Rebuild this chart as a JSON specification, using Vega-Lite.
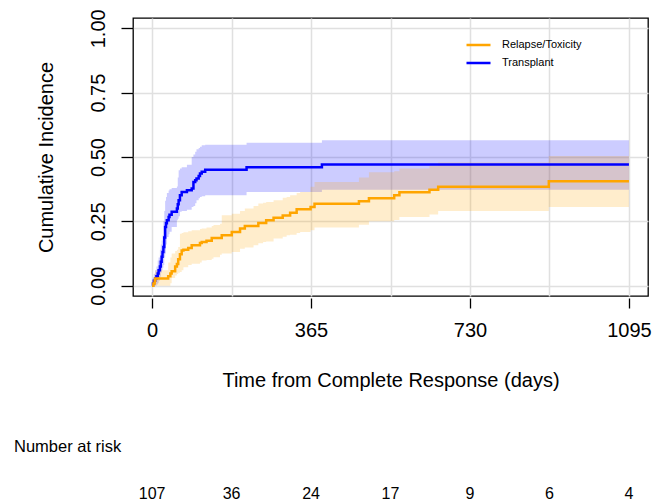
{
  "$schema": "https://vega.github.io/schema/vega-lite/v6.json",
  "padding": {"left": 14, "top": 8, "right": 5, "bottom": 0},
  "background": "white",
  "config": {
    "font": "Liberation Sans",
    "view": {"stroke": null},
    "legend": {"padding": 0}
  },
  "datasets": {
    "curves": [
      {"group": "Transplant", "day": 0, "est": 0, "lo": 0, "hi": 0},
      {"group": "Transplant", "day": 2, "est": 0.009, "lo": 0, "hi": 0.028},
      {"group": "Transplant", "day": 4, "est": 0.019, "lo": 0, "hi": 0.045},
      {"group": "Transplant", "day": 7, "est": 0.028, "lo": 0, "hi": 0.06},
      {"group": "Transplant", "day": 10, "est": 0.037, "lo": 0.005, "hi": 0.075},
      {"group": "Transplant", "day": 13, "est": 0.047, "lo": 0.01, "hi": 0.098},
      {"group": "Transplant", "day": 15, "est": 0.06, "lo": 0.02, "hi": 0.11},
      {"group": "Transplant", "day": 18, "est": 0.075, "lo": 0.035, "hi": 0.14},
      {"group": "Transplant", "day": 20, "est": 0.093, "lo": 0.05, "hi": 0.16},
      {"group": "Transplant", "day": 22, "est": 0.112, "lo": 0.06, "hi": 0.176},
      {"group": "Transplant", "day": 24, "est": 0.131, "lo": 0.07, "hi": 0.195},
      {"group": "Transplant", "day": 26, "est": 0.15, "lo": 0.08, "hi": 0.25},
      {"group": "Transplant", "day": 28, "est": 0.187, "lo": 0.11, "hi": 0.29},
      {"group": "Transplant", "day": 30, "est": 0.228, "lo": 0.125, "hi": 0.33},
      {"group": "Transplant", "day": 32, "est": 0.243, "lo": 0.16, "hi": 0.345},
      {"group": "Transplant", "day": 34, "est": 0.254, "lo": 0.189, "hi": 0.36},
      {"group": "Transplant", "day": 38, "est": 0.267, "lo": 0.2, "hi": 0.37},
      {"group": "Transplant", "day": 40, "est": 0.276, "lo": 0.21, "hi": 0.375},
      {"group": "Transplant", "day": 45, "est": 0.287, "lo": 0.228, "hi": 0.38},
      {"group": "Transplant", "day": 57, "est": 0.3, "lo": 0.254, "hi": 0.385},
      {"group": "Transplant", "day": 59, "est": 0.316, "lo": 0.26, "hi": 0.42},
      {"group": "Transplant", "day": 61, "est": 0.332, "lo": 0.27, "hi": 0.449},
      {"group": "Transplant", "day": 64, "est": 0.351, "lo": 0.287, "hi": 0.455},
      {"group": "Transplant", "day": 68, "est": 0.364, "lo": 0.29, "hi": 0.46},
      {"group": "Transplant", "day": 80, "est": 0.371, "lo": 0.295, "hi": 0.47},
      {"group": "Transplant", "day": 91, "est": 0.378, "lo": 0.306, "hi": 0.5},
      {"group": "Transplant", "day": 95, "est": 0.403, "lo": 0.31, "hi": 0.51},
      {"group": "Transplant", "day": 99, "est": 0.41, "lo": 0.32, "hi": 0.52},
      {"group": "Transplant", "day": 102, "est": 0.416, "lo": 0.332, "hi": 0.53},
      {"group": "Transplant", "day": 107, "est": 0.426, "lo": 0.34, "hi": 0.535},
      {"group": "Transplant", "day": 110, "est": 0.436, "lo": 0.345, "hi": 0.54},
      {"group": "Transplant", "day": 114, "est": 0.443, "lo": 0.348, "hi": 0.546},
      {"group": "Transplant", "day": 122, "est": 0.45, "lo": 0.351, "hi": 0.548},
      {"group": "Transplant", "day": 217, "est": 0.46, "lo": 0.364, "hi": 0.555},
      {"group": "Transplant", "day": 390, "est": 0.471, "lo": 0.373, "hi": 0.565},
      {"group": "Transplant", "day": 1095, "est": 0.471, "lo": 0.373, "hi": 0.565},
      {"group": "Relapse/Toxicity", "day": 0, "est": 0, "lo": 0, "hi": 0},
      {"group": "Relapse/Toxicity", "day": 3, "est": 0.009, "lo": 0, "hi": 0.03},
      {"group": "Relapse/Toxicity", "day": 6, "est": 0.019, "lo": 0, "hi": 0.05},
      {"group": "Relapse/Toxicity", "day": 7, "est": 0.028, "lo": 0, "hi": 0.06},
      {"group": "Relapse/Toxicity", "day": 37, "est": 0.037, "lo": 0, "hi": 0.09},
      {"group": "Relapse/Toxicity", "day": 42, "est": 0.047, "lo": 0.01, "hi": 0.11},
      {"group": "Relapse/Toxicity", "day": 45, "est": 0.056, "lo": 0.03, "hi": 0.125},
      {"group": "Relapse/Toxicity", "day": 53, "est": 0.075, "lo": 0.04, "hi": 0.135},
      {"group": "Relapse/Toxicity", "day": 57, "est": 0.084, "lo": 0.045, "hi": 0.14},
      {"group": "Relapse/Toxicity", "day": 60, "est": 0.103, "lo": 0.05, "hi": 0.15},
      {"group": "Relapse/Toxicity", "day": 64, "est": 0.122, "lo": 0.053, "hi": 0.202},
      {"group": "Relapse/Toxicity", "day": 68, "est": 0.137, "lo": 0.06, "hi": 0.205},
      {"group": "Relapse/Toxicity", "day": 72, "est": 0.14, "lo": 0.072, "hi": 0.208},
      {"group": "Relapse/Toxicity", "day": 83, "est": 0.146, "lo": 0.08, "hi": 0.212},
      {"group": "Relapse/Toxicity", "day": 91, "est": 0.157, "lo": 0.085, "hi": 0.215},
      {"group": "Relapse/Toxicity", "day": 110, "est": 0.166, "lo": 0.09, "hi": 0.22},
      {"group": "Relapse/Toxicity", "day": 114, "est": 0.17, "lo": 0.098, "hi": 0.222},
      {"group": "Relapse/Toxicity", "day": 125, "est": 0.175, "lo": 0.1, "hi": 0.226},
      {"group": "Relapse/Toxicity", "day": 137, "est": 0.185, "lo": 0.105, "hi": 0.232},
      {"group": "Relapse/Toxicity", "day": 141, "est": 0.185, "lo": 0.111, "hi": 0.236},
      {"group": "Relapse/Toxicity", "day": 156, "est": 0.185, "lo": 0.12, "hi": 0.241},
      {"group": "Relapse/Toxicity", "day": 160, "est": 0.196, "lo": 0.125, "hi": 0.274},
      {"group": "Relapse/Toxicity", "day": 183, "est": 0.209, "lo": 0.131, "hi": 0.28},
      {"group": "Relapse/Toxicity", "day": 202, "est": 0.222, "lo": 0.144, "hi": 0.29},
      {"group": "Relapse/Toxicity", "day": 213, "est": 0.232, "lo": 0.148, "hi": 0.3},
      {"group": "Relapse/Toxicity", "day": 233, "est": 0.232, "lo": 0.157, "hi": 0.31},
      {"group": "Relapse/Toxicity", "day": 244, "est": 0.244, "lo": 0.165, "hi": 0.319},
      {"group": "Relapse/Toxicity", "day": 255, "est": 0.244, "lo": 0.17, "hi": 0.322},
      {"group": "Relapse/Toxicity", "day": 262, "est": 0.254, "lo": 0.172, "hi": 0.325},
      {"group": "Relapse/Toxicity", "day": 279, "est": 0.264, "lo": 0.183, "hi": 0.332},
      {"group": "Relapse/Toxicity", "day": 300, "est": 0.273, "lo": 0.19, "hi": 0.342},
      {"group": "Relapse/Toxicity", "day": 309, "est": 0.273, "lo": 0.196, "hi": 0.345},
      {"group": "Relapse/Toxicity", "day": 317, "est": 0.283, "lo": 0.198, "hi": 0.351},
      {"group": "Relapse/Toxicity", "day": 332, "est": 0.297, "lo": 0.205, "hi": 0.36},
      {"group": "Relapse/Toxicity", "day": 340, "est": 0.297, "lo": 0.209, "hi": 0.364},
      {"group": "Relapse/Toxicity", "day": 364, "est": 0.306, "lo": 0.215, "hi": 0.384},
      {"group": "Relapse/Toxicity", "day": 373, "est": 0.318, "lo": 0.226, "hi": 0.403},
      {"group": "Relapse/Toxicity", "day": 475, "est": 0.328, "lo": 0.237, "hi": 0.42},
      {"group": "Relapse/Toxicity", "day": 498, "est": 0.34, "lo": 0.25, "hi": 0.441},
      {"group": "Relapse/Toxicity", "day": 556, "est": 0.351, "lo": 0.255, "hi": 0.445},
      {"group": "Relapse/Toxicity", "day": 568, "est": 0.363, "lo": 0.267, "hi": 0.455},
      {"group": "Relapse/Toxicity", "day": 637, "est": 0.373, "lo": 0.277, "hi": 0.465},
      {"group": "Relapse/Toxicity", "day": 657, "est": 0.384, "lo": 0.29, "hi": 0.479},
      {"group": "Relapse/Toxicity", "day": 911, "est": 0.406, "lo": 0.306, "hi": 0.504},
      {"group": "Relapse/Toxicity", "day": 1095, "est": 0.406, "lo": 0.306, "hi": 0.504}
    ],
    "risk": [
      {"day": 0, "n": 107},
      {"day": 182.5, "n": 36},
      {"day": 365, "n": 24},
      {"day": 547.5, "n": 17},
      {"day": 730, "n": 9},
      {"day": 912.5, "n": 6},
      {"day": 1095, "n": 4}
    ]
  },
  "spacing": 47,
  "vconcat": [
    {
      "width": 515,
      "height": 278,
      "view": {"stroke": "black", "strokeWidth": 1.3},
      "data": {"name": "curves"},
      "layer": [
        {
          "mark": {"type": "area", "interpolate": "step-after", "opacity": 0.2},
          "encoding": {
            "x": {
              "field": "day", "type": "quantitative",
              "scale": {"domain": [-43.8, 1138.8], "nice": false, "zero": false},
              "axis": {"orient": "bottom", "values": [0, 182.5, 365, 547.5, 730, 912.5, 1095], "grid": true, "gridColor": "#e0e0e0", "gridWidth": 1.5, "ticks": false, "labels": false, "domain": false, "title": null}
            },
            "y": {
              "field": "lo", "type": "quantitative",
              "scale": {"domain": [-0.04, 1.04], "nice": false, "zero": false},
              "axis": {
                "orient": "left",
                "values": [0, 0.25, 0.5, 0.75, 1], "format": ".2f",
                "grid": true, "gridColor": "#e0e0e0", "gridWidth": 1.5,
                "domain": false, "tickSize": 12, "tickColor": "black", "tickWidth": 1.3,
                "labelAngle": -90, "labelAlign": "center", "labelBaseline": "bottom",
                "labelPadding": 13, "labelFontSize": 20, "labelColor": "black", "labelFlush": false, "labelOverlap": false,
                "title": "Cumulative Incidence", "titleFontSize": 20, "titleFontWeight": "normal", "titleColor": "black", "titlePadding": 32
              }
            },
            "y2": {"field": "hi"},
            "color": {
              "field": "group", "type": "nominal",
              "scale": {"domain": ["Relapse/Toxicity", "Transplant"], "range": ["#FFA500", "#0000FF"]},
              "legend": null
            }
          }
        },
        {
          "mark": {"type": "line", "interpolate": "step-after", "strokeWidth": 2.5},
          "encoding": {
            "x": {
              "field": "day", "type": "quantitative",
              "axis": {
                "orient": "bottom",
                "values": [0, 365, 730, 1095], "format": "d", "grid": false, "domain": false,
                "offset": 2, "tickSize": 10, "tickColor": "black", "tickWidth": 1.3,
                "labelFontSize": 20, "labelColor": "black", "labelPadding": 12, "labelFlush": false, "labelOverlap": false,
                "title": "Time from Complete Response (days)", "titleFontSize": 20, "titleFontWeight": "normal", "titleColor": "black", "titlePadding": 30
              }
            },
            "y": {"field": "est", "type": "quantitative", "axis": null},
            "color": {
              "field": "group", "type": "nominal",
              "legend": {
                "title": null, "orient": "none", "legendX": 332, "legendY": 20,
                "symbolType": "stroke", "symbolSize": 576, "symbolStrokeWidth": 2.5,
                "clipHeight": 14, "rowPadding": 4, "labelOffset": 10,
                "labelFontSize": 11, "labelColor": "black"
              }
            }
          }
        }
      ],
      "resolve": {"axis": {"x": "independent", "y": "independent"}, "legend": {"color": "independent"}}
    },
    {
      "width": 515,
      "height": 20,
      "data": {"name": "risk"},
      "title": {"text": "Number at risk", "anchor": "start", "dx": -119, "offset": 29, "fontSize": 16.5, "fontWeight": "normal", "color": "black"},
      "mark": {"type": "text", "fontSize": 16, "color": "black"},
      "encoding": {
        "x": {"field": "day", "type": "quantitative", "scale": {"domain": [-43.8, 1138.8], "nice": false, "zero": false}, "axis": null},
        "text": {"field": "n", "type": "quantitative"}
      }
    }
  ]
}
